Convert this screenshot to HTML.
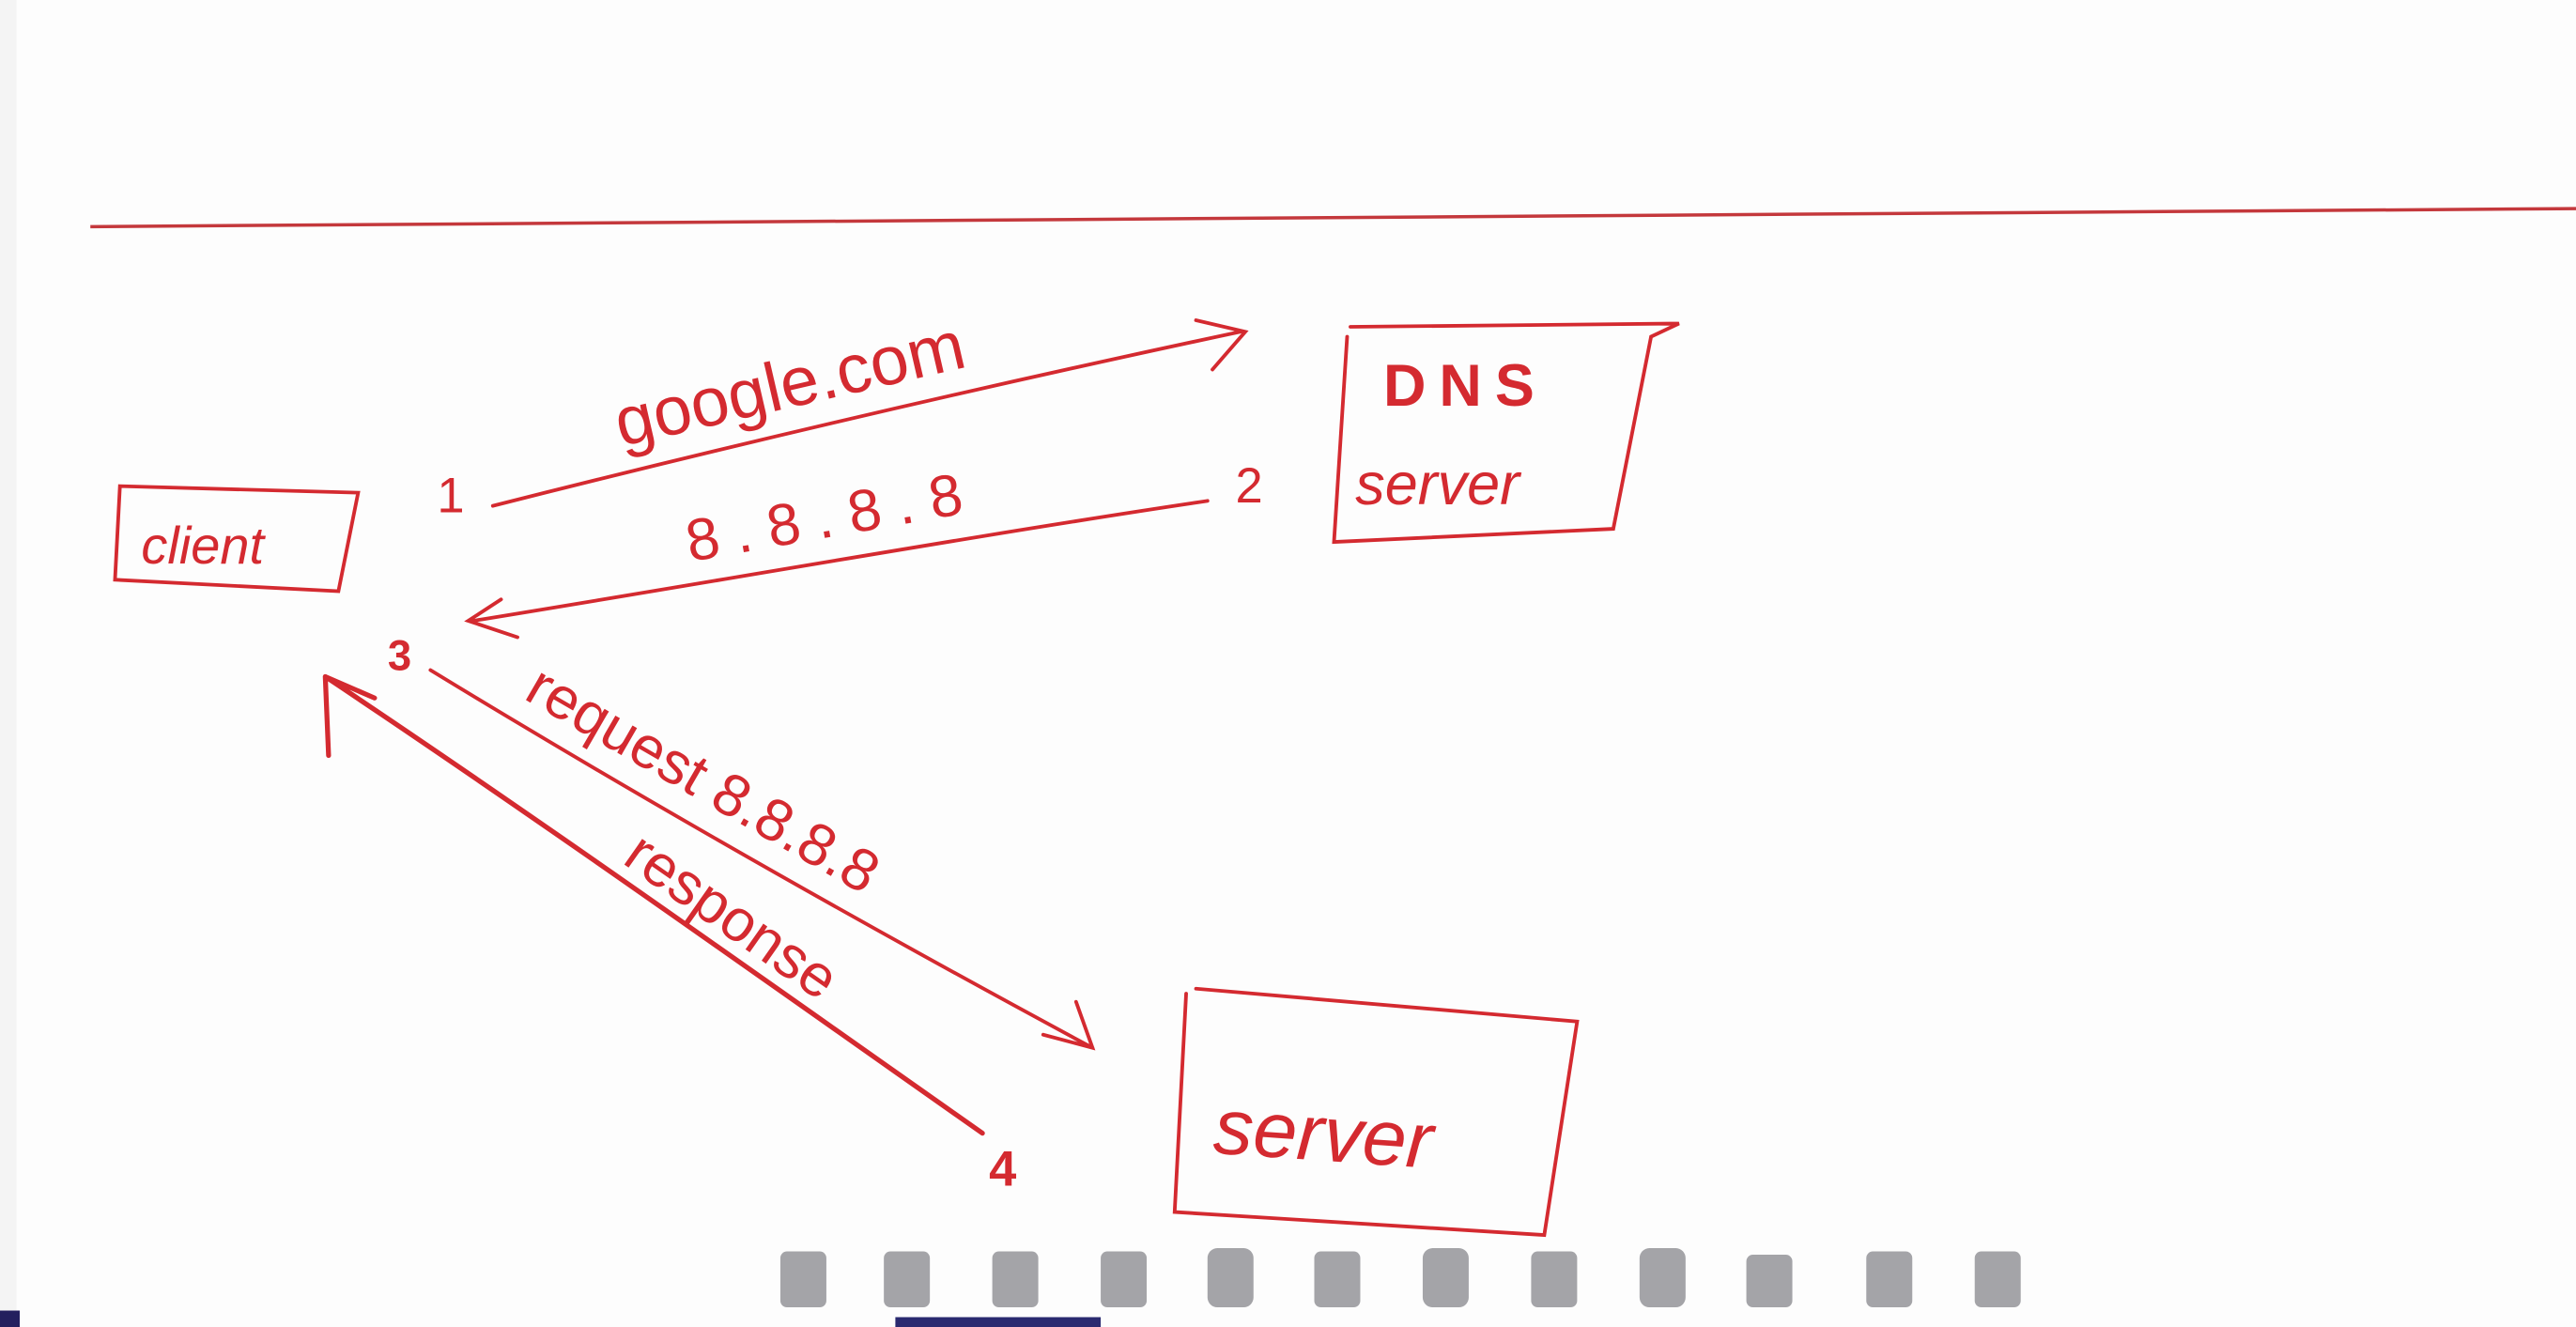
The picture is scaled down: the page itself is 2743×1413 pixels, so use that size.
<!DOCTYPE html>
<html><head><meta charset="utf-8"><style>
html,body{margin:0;padding:0;background:#fff;overflow:hidden}
svg{display:block}
text{font-family:"Liberation Sans",sans-serif;fill:#d42a30}
</style></head><body>
<svg width="2743" height="1413" viewBox="0 0 1568 808" preserveAspectRatio="none" xmlns="http://www.w3.org/2000/svg">
<rect width="1568" height="808" fill="#fdfdfd"/>
<rect x="0" y="0" width="10" height="808" fill="#f4f4f4"/>
<path d="M55 138 L1568 127" stroke="#c4383c" stroke-width="2" fill="none"/>
<g stroke="#d42a30" fill="none" stroke-width="2.2" stroke-linecap="round">
 <path d="M73 296 L218 300 L206 360 L70 353 Z"/>
 <path d="M822 199 L1022 197 L1005 205 L982 322 L812 330 L820 205"/>
 <path d="M728 602 L960 622 L940 752 L715 738 L722 605"/>
 <path d="M300 308 C450 270 600 235 755 202 M728 195 L758 202 L738 225"/>
 <path d="M735 305 C600 325 430 355 288 378 M305 365 L285 378 L315 388"/>
 <path d="M262 408 C380 480 520 560 665 638 M635 630 L665 638 L655 610"/>
 <path d="M598 690 C470 600 330 500 198 412 M198 412 L200 460 M198 412 L228 425" stroke-width="3"/>
</g>
<text x="86" y="343" font-size="32" font-style="italic">client</text>
<text x="842" y="247" font-size="36" font-weight="bold" letter-spacing="8">DNS</text>
<text x="825" y="307" font-size="36" font-style="italic">server</text>
<text x="738" y="702" font-size="48" font-style="italic" transform="rotate(4 738 702)">server</text>
<text x="266" y="312" font-size="30">1</text>
<text x="752" y="306" font-size="30">2</text>
<text x="236" y="408" font-size="26" font-weight="bold">3</text>
<text x="602" y="722" font-size="30" font-weight="bold">4</text>
<text x="378" y="272" font-size="42" transform="rotate(-13 378 272)">google.com</text>
<text x="420" y="342" font-size="36" letter-spacing="10" transform="rotate(-10 420 342)">8.8.8.8</text>
<text x="318" y="425" font-size="36" transform="rotate(30 318 425)">request 8.8.8.8</text>
<text x="378" y="525" font-size="36" transform="rotate(35 378 525)">response</text>
<g fill="#a4a4a8">
 <rect x="475" y="762" width="28" height="34" rx="4"/>
 <rect x="538" y="762" width="28" height="34" rx="4"/>
 <rect x="604" y="762" width="28" height="34" rx="4"/>
 <rect x="670" y="762" width="28" height="34" rx="4"/>
 <rect x="735" y="760" width="28" height="36" rx="6"/>
 <rect x="800" y="762" width="28" height="34" rx="4"/>
 <rect x="866" y="760" width="28" height="36" rx="6"/>
 <rect x="932" y="762" width="28" height="34" rx="4"/>
 <rect x="998" y="760" width="28" height="36" rx="6"/>
 <rect x="1063" y="764" width="28" height="32" rx="4"/>
 <rect x="1136" y="762" width="28" height="34" rx="4"/>
 <rect x="1202" y="762" width="28" height="34" rx="4"/>
</g>
<rect x="0" y="798" width="12" height="10" fill="#23205e"/>
<rect x="545" y="802" width="125" height="6" fill="#2a2a70"/>
</svg>
</body></html>
